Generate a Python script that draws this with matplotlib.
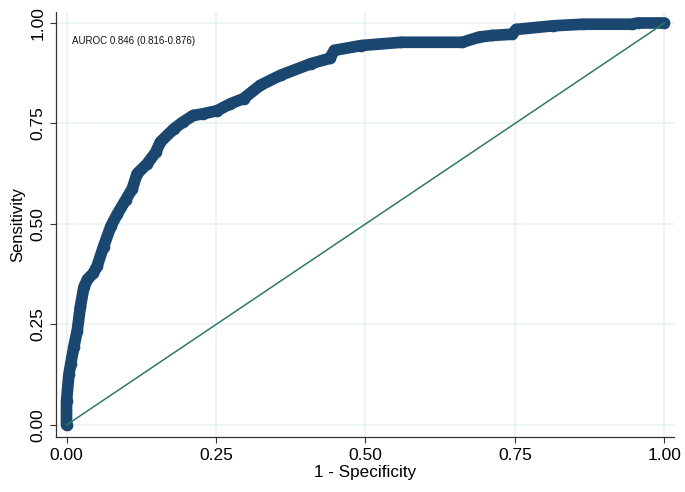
import matplotlib.pyplot as plt
import numpy as np

plt.rcParams['font.family'] = ['Liberation Sans', 'DejaVu Sans']

# ROC curve (1 - specificity, sensitivity)
fpr = [0.000, 0.000, 0.004, 0.007, 0.012, 0.018, 0.023, 0.029, 0.035, 0.045,
       0.051, 0.062, 0.074, 0.085, 0.099, 0.110, 0.118, 0.135, 0.149, 0.157,
       0.179, 0.195, 0.212, 0.228, 0.252, 0.274, 0.296, 0.324, 0.358, 0.409,
       0.440, 0.448, 0.493, 0.560, 0.662, 0.690, 0.712, 0.745, 0.752, 0.814,
       0.864, 0.945, 0.955, 1.000]
tpr = [0.000, 0.060, 0.126, 0.152, 0.193, 0.235, 0.293, 0.343, 0.362, 0.378,
       0.395, 0.444, 0.494, 0.525, 0.560, 0.588, 0.625, 0.650, 0.678, 0.704,
       0.736, 0.754, 0.770, 0.774, 0.782, 0.799, 0.812, 0.845, 0.870, 0.899,
       0.912, 0.932, 0.944, 0.952, 0.952, 0.965, 0.969, 0.972, 0.984, 0.993,
       0.997, 0.997, 1.000, 1.000]

ref_line = [0.0, 1.0]
ticks = [0.0, 0.25, 0.5, 0.75, 1.0]
tick_labels = ['0.00', '0.25', '0.50', '0.75', '1.00']
auc_text = 'AUROC 0.846 (0.816-0.876)'

navy = '#1a476f'
green = '#2e7866'
grid_col = '#e9f1f3'

fig = plt.figure(figsize=(6.85, 4.92), dpi=100)
ax = fig.add_axes([56 / 685, 1 - 437.3 / 492, (674 - 56) / 685, (437.3 - 11.7) / 492])

ax.plot(fpr, tpr, color=navy, lw=8.4, marker='o', ms=8.4, mew=0,
        solid_joinstyle='round', solid_capstyle='round', zorder=3)
ax.plot(ref_line, ref_line, color=green, lw=1.1, zorder=4)

ax.set_xlim(-0.0176, 1.016)
ax.set_ylim(-0.0306, 1.0281)
ax.set_xticks(ticks)
ax.set_xticklabels(tick_labels, fontsize=12.5)
ax.set_yticks(ticks)
ax.set_yticklabels(tick_labels, fontsize=12.5, rotation=90, va='center')
ax.tick_params(length=4.5, width=0.8, color='#333333', pad=3)

ax.grid(True, color=grid_col, lw=1.2, zorder=0)
ax.set_axisbelow(True)
for s in ['top', 'right']:
    ax.spines[s].set_visible(False)
for s in ['left', 'bottom']:
    ax.spines[s].set_linewidth(0.9)
    ax.spines[s].set_color('#333333')

ax.set_xlabel('1 - Specificity', fontsize=12.3, labelpad=2)
ax.set_ylabel('Sensitivity', fontsize=12, labelpad=4)

ax.text(0.009, 0.955, auc_text, fontsize=7, va='center', ha='left', color='#111111')

fig.savefig('out.png', dpi=100)
